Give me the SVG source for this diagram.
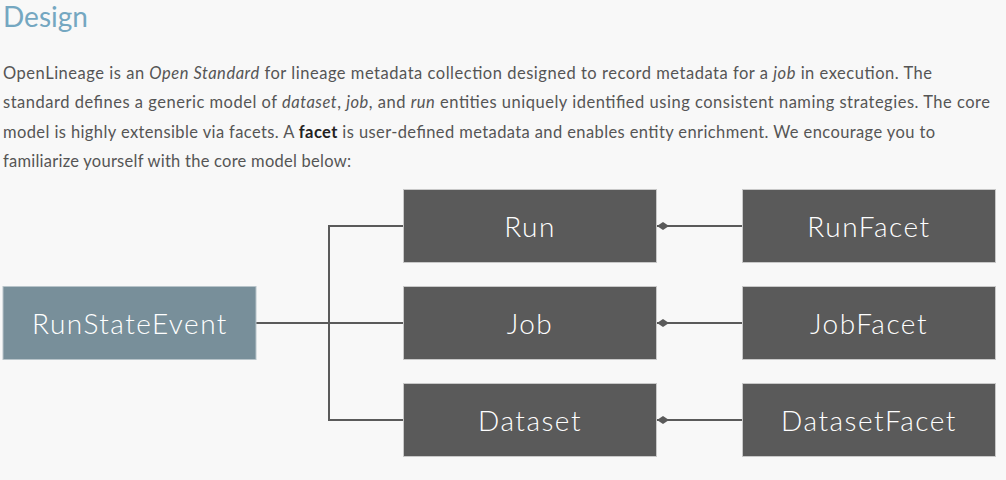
<svg xmlns="http://www.w3.org/2000/svg" width="1006" height="480" viewBox="0 0 1006 480">
<style>
.bg{fill:#f8f8f8}
.title{font-family:"Lato","Noto Sans",sans-serif;font-size:28px;fill:#74a7c1}
.p{font-family:"Lato","Noto Sans",sans-serif;font-size:16.5px;fill:#555555}
.it{font-style:italic}
.b{font-weight:bold;fill:#222}
.box{fill:#5a5a5a;stroke:#c8c8c8;stroke-width:1}
.evt{fill:#788f9a;stroke:#b8c4ca;stroke-width:1}
.lbl{font-family:"Lato","Noto Sans",sans-serif;font-size:28px;font-weight:300;letter-spacing:1.5px;fill:#ffffff;text-anchor:middle;dominant-baseline:central}
.ln{fill:none;stroke:#5a5a5a;stroke-width:2}
</style>
<defs>
<marker id="dia" viewBox="0 0 12 8" refX="12" refY="4" markerWidth="12" markerHeight="8" markerUnits="userSpaceOnUse" orient="auto">
<path d="M0,4 L6,0 L12,4 L6,8 Z" fill="#5a5a5a"/>
</marker>
</defs>
<rect class="bg" x="0" y="0" width="1006" height="480"/>
<text class="title" x="3" y="27">Design</text>
<text class="p" x="3" y="79" textLength="929" lengthAdjust="spacing">OpenLineage is an <tspan class="it">Open Standard</tspan> for lineage metadata collection designed to record metadata for a <tspan class="it">job</tspan> in execution. The</text>
<text class="p" x="3" y="108" textLength="987" lengthAdjust="spacing">standard defines a generic model of <tspan class="it">dataset</tspan>, <tspan class="it">job</tspan>, and <tspan class="it">run</tspan> entities uniquely identified using consistent naming strategies. The core</text>
<text class="p" x="3" y="138" textLength="932" lengthAdjust="spacing">model is highly extensible via facets. A <tspan class="b">facet</tspan> is user-defined metadata and enables entity enrichment. We encourage you to</text>
<text class="p" x="3" y="167" textLength="348" lengthAdjust="spacing">familiarize yourself with the core model below:</text>
<g id="connectors">
<path class="ln" d="M256,323 H403"/>
<path class="ln" d="M403,226 H329 V420 H403"/>
<path class="ln" d="M742,226 H657" marker-end="url(#dia)"/>
<path class="ln" d="M742,323 H657" marker-end="url(#dia)"/>
<path class="ln" d="M742,420 H657" marker-end="url(#dia)"/>
</g>
<g id="RunStateEvent"><rect class="evt" x="3" y="286.5" width="253" height="73"/><text class="lbl" x="130" y="323">RunStateEvent</text></g>
<g id="Run"><rect class="box" x="403.5" y="189.5" width="253" height="73"/><text class="lbl" x="530" y="226">Run</text></g>
<g id="Job"><rect class="box" x="403.5" y="286.5" width="253" height="73"/><text class="lbl" x="530" y="323">Job</text></g>
<g id="Dataset"><rect class="box" x="403.5" y="383.5" width="253" height="73"/><text class="lbl" x="530" y="420">Dataset</text></g>
<g id="RunFacet"><rect class="box" x="742.5" y="189.5" width="253" height="73"/><text class="lbl" x="869" y="226">RunFacet</text></g>
<g id="JobFacet"><rect class="box" x="742.5" y="286.5" width="253" height="73"/><text class="lbl" x="869" y="323">JobFacet</text></g>
<g id="DatasetFacet"><rect class="box" x="742.5" y="383.5" width="253" height="73"/><text class="lbl" x="869" y="420">DatasetFacet</text></g>
</svg>
